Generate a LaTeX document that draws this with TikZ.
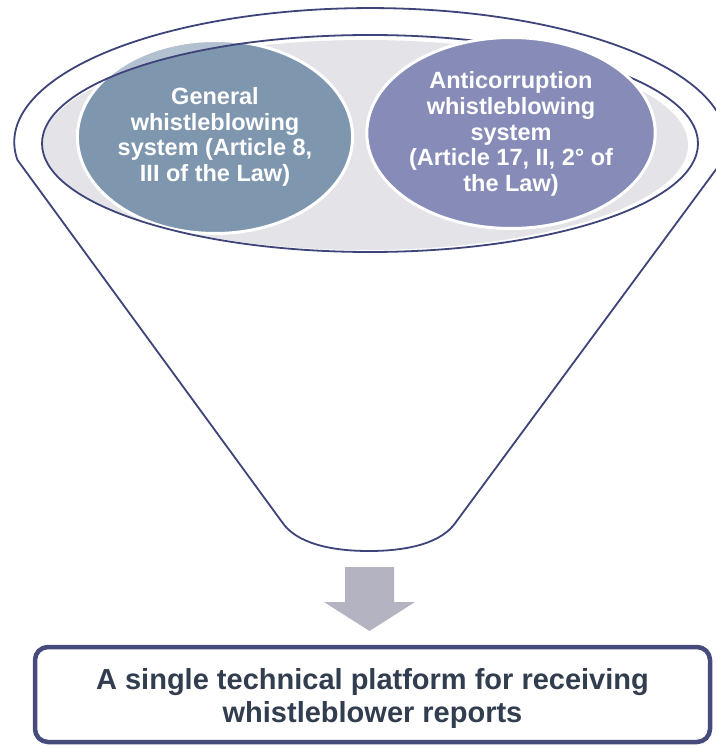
\documentclass[tikz,border=0pt]{standalone}
\usepackage{fontspec}
\setmainfont{Liberation Sans}
\usetikzlibrary{shapes.geometric}

\definecolor{funnelline}{RGB}{62,67,121}
\definecolor{bowlgray}{RGB}{227,227,232}
\definecolor{steelfill}{RGB}{127,150,175}
\definecolor{lavfill}{RGB}{135,139,184}
\definecolor{arrowgray}{RGB}{179,179,193}
\definecolor{boxline}{RGB}{71,75,124}
\definecolor{boxtext}{RGB}{50,62,79}

\tikzset{
  funnel/.style={draw=funnelline, line width=1.8pt, line join=round},
  system/.style={ellipse, draw=white, line width=3pt, inner sep=0pt,
    text=white, align=center, font=\bfseries\fontsize{23.5}{25.7}\selectfont},
  platformbox/.style={draw=boxline, line width=4.5pt, rounded corners=13pt,
    fill=white, inner sep=0pt, text=boxtext, align=center,
    font=\bfseries\fontsize{29}{33}\selectfont}
}

\begin{document}
\begin{tikzpicture}[x=1pt, y=1pt]
  \useasboundingbox (0,0) rectangle (715,-746);

  % outer funnel: elliptical rim and cone
  \path[funnel, fill=white] (723,-160)
    arc[start angle=-7.7, end angle=187.7, x radius=356pt, y radius=134pt]
    -- (282,-522)
    .. controls (296,-543) and (330,-551) .. (369,-551)
    .. controls (408,-551) and (442,-543) .. (456,-522)
    -- cycle;

  % inner bowl
  \fill[bowlgray] (365,-145) ellipse [x radius=323pt, y radius=105pt];

  % general system
  \node[system, fill=steelfill, minimum width=273pt, minimum height=193pt]
    (general) at (215,-137)
    {General\\whistleblowing\\system (Article 8,\\III of the Law)};

  % part of the general system that rises above the bowl rim
  \begin{scope}[even odd rule]
    \clip (0,0) rectangle (715,-746)
      (370,-143.5) ellipse [x radius=328pt, y radius=108.5pt];
    \fill[white, opacity=0.4] (215,-137) ellipse [x radius=138pt, y radius=98pt];
  \end{scope}

  % bowl rim
  \draw[funnel] (370,-143.5) ellipse [x radius=328pt, y radius=108.5pt];

  % anticorruption system
  \node[system, fill=lavfill, minimum width=279pt, minimum height=191pt]
    (anticorruption) at (511,-133)
    {\raisebox{0pt}[19pt]{Anticorruption}\\whistleblowing\\system\\(Article 17, II, 2° of\\the Law)};

  % downward block arrow
  \coordinate (funnelbottom) at (369.5,-551);
  \fill[arrowgray] (345,-567) -- (394,-567) -- (394,-602) -- (415,-602)
    -- (369.5,-631) -- (324,-602) -- (345,-602) -- cycle;

  % result box
  \node[platformbox, minimum width=675pt, minimum height=95pt]
    (platform) at (372.5,-694.5)
    {\rule{0pt}{29pt}A single technical platform for receiving\\whistleblower reports};
\end{tikzpicture}
\end{document}
